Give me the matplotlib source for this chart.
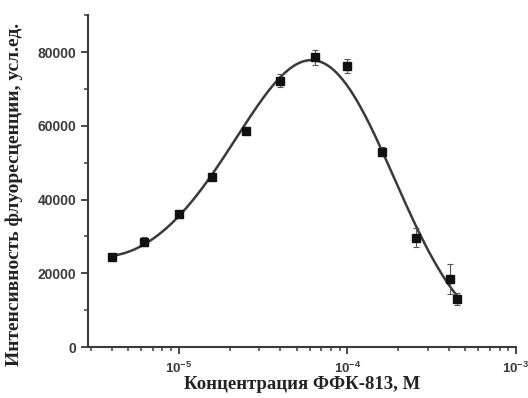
import numpy as np
import matplotlib
matplotlib.use("Agg")
from matplotlib import pyplot as plt
from matplotlib.ticker import LogLocator, MultipleLocator, NullFormatter, FuncFormatter

# concentration (M), intensity (a.u.), error
conc = [4.0e-6, 6.2e-6, 1.0e-5, 1.58e-5, 2.5e-5, 4.0e-5, 6.4e-5, 1.0e-4, 1.6e-4, 2.57e-4, 4.05e-4, 4.5e-4]
intens = [24300, 28600, 36200, 46000, 58600, 72200, 78600, 76200, 53000, 29700, 18400, 13000]
err = [800, 1200, 600, 700, 800, 1800, 2000, 2000, 1200, 2600, 4000, 1600]

xlabel = "Концентрация ФФК-813, М"
ylabel = "Интенсивность флуоресценции, усл.ед."

gray = "#3a3a3a"

fig = plt.figure(figsize=(5.28, 3.98), dpi=100)
ax = fig.add_axes([0.167, 0.128, 0.81, 0.834])

# smooth fitted curve: quartic in log10(x) fitted to log(y)
lx = np.log10(conc)
coef = np.polyfit(lx, np.log(intens), 4)
xs = np.linspace(lx[0], lx[-1], 300)
ax.plot(10 ** xs, np.exp(np.polyval(coef, xs)), color=gray, lw=1.8, zorder=2)

ax.errorbar(conc, intens, yerr=err, fmt="s", color="#111111", ms=6,
            ecolor="#555555", elinewidth=0.8, capsize=2, capthick=0.8, zorder=3)

ax.set_xscale("log")
ax.set_xlim(2.9e-6, 1e-3)
ax.set_ylim(0, 90000)
ax.yaxis.set_major_locator(MultipleLocator(20000))
ax.yaxis.set_minor_locator(MultipleLocator(10000))
ax.xaxis.set_major_locator(LogLocator(base=10, numticks=10))
ax.xaxis.set_minor_locator(LogLocator(base=10, subs=np.arange(2, 10), numticks=10))
ax.xaxis.set_minor_formatter(NullFormatter())
ax.xaxis.set_major_formatter(FuncFormatter(
    lambda v, p: "10$^{\\mathregular{-%d}}$" % round(-np.log10(v))))

for s in ["top", "right"]:
    ax.spines[s].set_visible(False)
for s in ["left", "bottom"]:
    ax.spines[s].set_linewidth(1.5)
    ax.spines[s].set_color(gray)

ax.tick_params(which="major", length=5, width=1.3, color=gray, direction="out",
               labelsize=10, labelcolor=gray)
ax.tick_params(axis="x", which="major", pad=5)
ax.tick_params(which="minor", length=3, width=1.1, color=gray, direction="out")
for lab in ax.get_xticklabels() + ax.get_yticklabels():
    lab.set_fontfamily("Liberation Sans")
    lab.set_fontweight("bold")
for lab in ax.get_xticklabels():
    lab.set_fontsize(9.5)

ax.set_xlabel(xlabel, fontsize=13.5, fontweight="bold", family="Liberation Serif", color="#222222", labelpad=0)
ax.set_ylabel(ylabel, fontsize=14, fontweight="bold", family="Liberation Serif", color="#222222")
ax.yaxis.set_label_coords(-0.152, 0.46)

fig.savefig("out.png", dpi=100)
